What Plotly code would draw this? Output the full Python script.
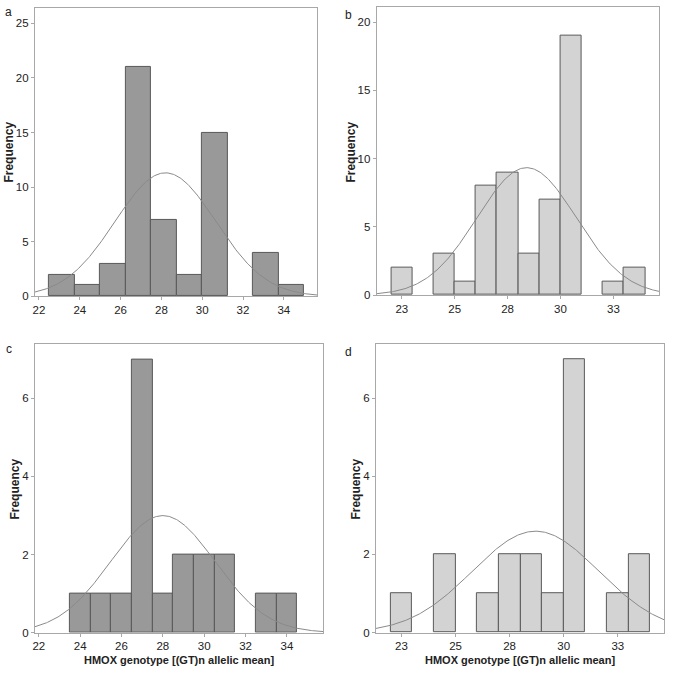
import numpy as np
import plotly.graph_objects as go

# ---- data ----
# panel a (bin width 1.25 starting at 22.5)
a_left = [22.5, 23.75, 25.0, 26.25, 27.5, 28.75, 30.0, 31.25, 32.5, 33.75]
a_counts = [2, 1, 3, 21, 7, 2, 15, 0, 4, 1]
a_width = 1.25
a_mean, a_sd = 28.2, 2.47

# panel b (bin width 1, centred on integers)
b_centers = [23, 24, 25, 26, 27, 28, 29, 30, 31, 32, 33, 34]
b_counts = [2, 0, 3, 1, 8, 9, 3, 7, 19, 0, 1, 2]
b_mean, b_sd = 28.9, 2.35

# panel c
c_centers = [24, 25, 26, 27, 28, 29, 30, 31, 32, 33, 34]
c_counts = [1, 1, 1, 7, 1, 2, 2, 2, 0, 1, 1]
c_mean, c_sd = 28.0, 2.53

# panel d
d_centers = [23, 24, 25, 26, 27, 28, 29, 30, 31, 32, 33, 34]
d_counts = [1, 0, 2, 0, 1, 2, 2, 1, 7, 0, 1, 2]
d_mean, d_sd = 29.2, 2.92

ac_ticks = [22, 24, 26, 28, 30, 32, 34]
bd_tickvals = [23, 25.5, 28, 30.5, 33]
bd_ticktext = ["23", "25", "28", "30", "33"]

DARK = "#999999"
LIGHT = "#d3d3d3"
EDGE = "#595959"
FRAME = "#a8a8a8"

W = 675.0

def dom_x(p0, p1):
    return [p0 / W, p1 / W]

def dom_y(top, bot):
    return [1 - bot / W, 1 - top / W]

fig = go.Figure()

panels = [
    dict(name="a", x=[c + a_width / 2 for c in a_left], y=a_counts, w=a_width, color=DARK,
         mean=a_mean, sd=a_sd, xr=[21.80, 35.63], yr=[0, 26.4], ytick=5,
         xd=dom_x(33, 316), yd=dom_y(8, 299), xt=dict(tickvals=ac_ticks),
         ftitle=(7, 153)),
    dict(name="b", x=b_centers, y=b_counts, w=1.0, color=LIGHT,
         mean=b_mean, sd=b_sd, xr=[21.81, 35.17], yr=[0, 21.14], ytick=5,
         xd=dom_x(375.7, 659.3), yd=dom_y(6.7, 297.7),
         xt=dict(tickvals=bd_tickvals, ticktext=bd_ticktext), ftitle=(350, 153)),
    dict(name="c", x=c_centers, y=c_counts, w=1.0, color=DARK,
         mean=c_mean, sd=c_sd, xr=[21.81, 35.75], yr=[0, 7.40], ytick=2,
         xd=dom_x(33, 322), yd=dom_y(346.7, 638.3), xt=dict(tickvals=ac_ticks),
         ftitle=(13, 493)),
    dict(name="d", x=d_centers, y=d_counts, w=1.0, color=LIGHT,
         mean=d_mean, sd=d_sd, xr=[21.82, 35.15], yr=[0, 7.38], ytick=2,
         xd=dom_x(375, 664.3), yd=dom_y(347.3, 638.3),
         xt=dict(tickvals=bd_tickvals, ticktext=bd_ticktext), ftitle=(355, 493)),
]

FAM = "Liberation Sans, Arial, sans-serif"
font = dict(family=FAM, size=12, color="#222")
tfont = dict(family=FAM, size=11.5, color="#222")

for i, p in enumerate(panels):
    k = "" if i == 0 else str(i + 1)
    xa, ya = "x" + k, "y" + k
    n = sum(p["y"])
    bx = [x for x, y in zip(p["x"], p["y"]) if y > 0]
    by = [y for y in p["y"] if y > 0]
    fig.add_trace(go.Bar(x=bx, y=by, width=p["w"], xaxis=xa, yaxis=ya,
                         marker=dict(color=p["color"], line=dict(color=EDGE, width=1)),
                         showlegend=False, hoverinfo="skip"))
    xs = np.linspace(p["xr"][0], p["xr"][1], 300)
    ys = n * p["w"] / (p["sd"] * np.sqrt(2 * np.pi)) * np.exp(-0.5 * ((xs - p["mean"]) / p["sd"]) ** 2)
    fig.add_trace(go.Scatter(x=xs, y=ys, mode="lines", xaxis=xa, yaxis=ya,
                             line=dict(color="#8a8a8a", width=1), showlegend=False,
                             hoverinfo="skip"))
    axis_common = dict(showgrid=False, zeroline=False, showline=True, linecolor=FRAME,
                       linewidth=1, mirror=True, ticks="outside", ticklen=3,
                       tickcolor=FRAME, tickfont=tfont)
    fig.layout["xaxis" + k] = dict(domain=p["xd"], range=p["xr"], anchor=ya,
                                   tickmode="array", **p["xt"], **axis_common)
    fig.layout["yaxis" + k] = dict(domain=p["yd"], range=p["yr"], anchor=xa,
                                   dtick=p["ytick"], tick0=0, **axis_common)
    fx, fy = p["ftitle"]
    fig.add_annotation(text="<b>Frequency</b>", x=fx / W, y=1 - fy / W, xref="paper",
                       yref="paper", showarrow=False, textangle=-90, xanchor="center",
                       yanchor="middle", font=font)

# panel letters
letters = [("a", 7, 12), ("b", 348, 15), ("c", 7, 352), ("d", 348, 355)]
for t, px, py in letters:
    fig.add_annotation(text=t, x=px / W, y=1 - py / W, xref="paper", yref="paper",
                       showarrow=False, xanchor="center", yanchor="middle",
                       font=dict(family=FAM, size=12, color="#222"))

# x titles
for cx in [(33 + 322) / 2, (375 + 664.3) / 2]:
    fig.add_annotation(text="<b>HMOX genotype [(GT)n allelic mean]</b>", x=cx / W, y=1 - 666 / W,
                       xref="paper", yref="paper", showarrow=False, xanchor="center",
                       yanchor="middle", font=dict(family=FAM, size=11, color="#222"))

fig.update_layout(width=675, height=675, margin=dict(l=0, r=0, t=0, b=0),
                  paper_bgcolor="white", plot_bgcolor="white", bargap=0)

fig.write_html("out.html", config={"displayModeBar": False},
               post_script="document.body.style.margin='0';")
